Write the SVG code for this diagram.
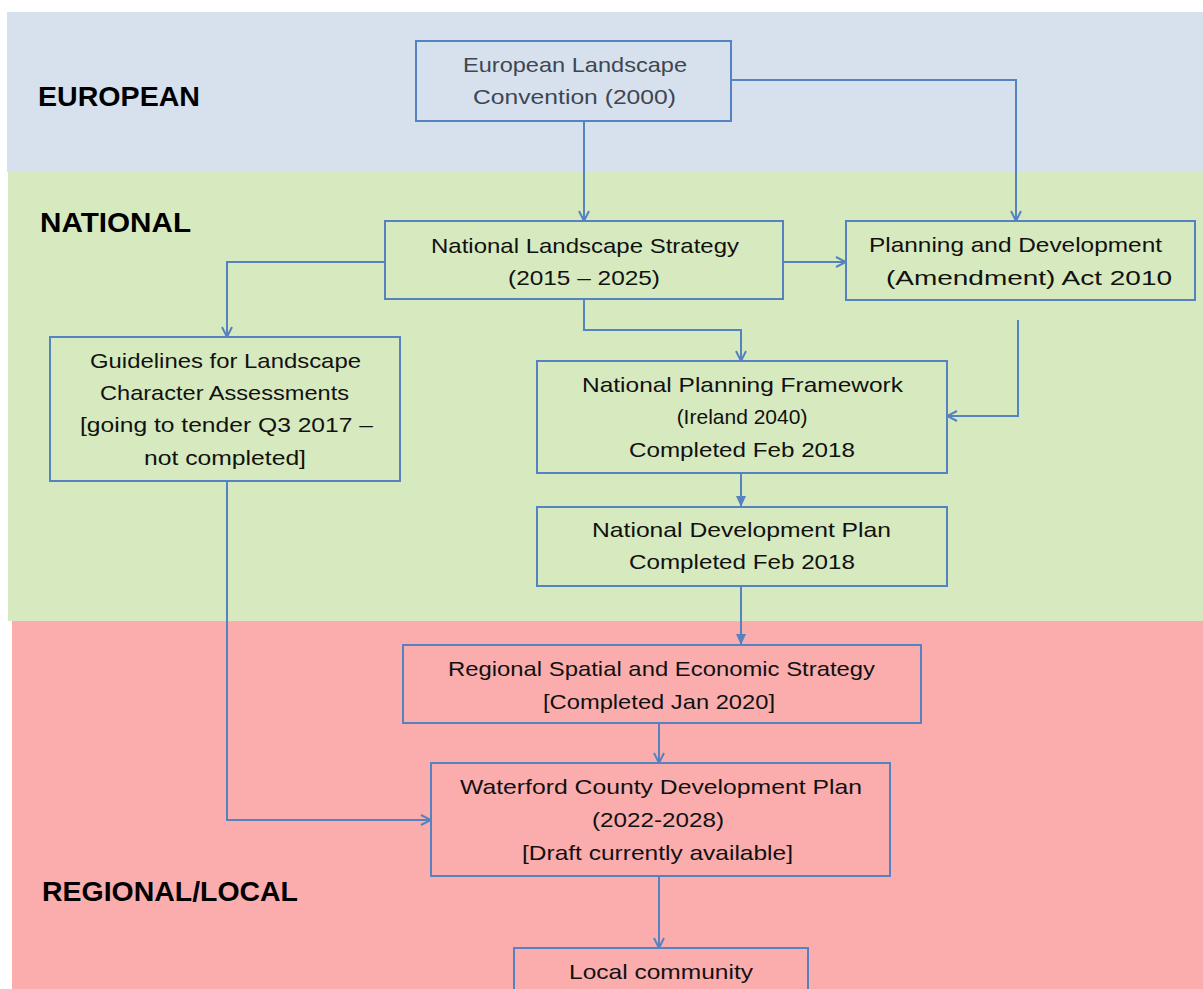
<svg xmlns="http://www.w3.org/2000/svg" width="1203" height="989" viewBox="0 0 1203 989">
<style>
.box{fill:none;stroke:#5582c0;stroke-width:2}
.t{font-family:"Liberation Sans",Arial,sans-serif;font-size:21px;fill:#111;text-anchor:middle}
.g{fill:#3f4652}
.h{font-family:"Liberation Sans",Arial,sans-serif;font-size:28px;font-weight:bold;fill:#000}
.c{fill:none;stroke:#5582c0;stroke-width:2}
.open{marker-end:url(#mo)}
.fill{marker-end:url(#mf)}
</style>
<defs>
<marker id="mo" viewBox="0 0 12 12" markerWidth="12" markerHeight="12" refX="11" refY="6" orient="auto" markerUnits="userSpaceOnUse">
<path d="M1,1 L11,6 L1,11" fill="none" stroke="#5582c0" stroke-width="2"/>
</marker>
<marker id="mf" viewBox="0 0 12 12" markerWidth="12" markerHeight="12" refX="11" refY="6" orient="auto" markerUnits="userSpaceOnUse">
<path d="M0,1 L11,6 L0,11 Z" fill="#5582c0"/>
</marker>
</defs>
<rect width="1203" height="989" fill="#fff"/>
<g id="bands">
<rect x="7" y="12" width="1196" height="160" fill="#d6e1ed"/>
<rect x="8" y="172" width="1195" height="449" fill="#d7eabf"/>
<rect x="12" y="621" width="1191" height="368" fill="#fbadad"/>
</g>
<g id="headings">
<text class="h" x="38" y="106" textLength="162" lengthAdjust="spacingAndGlyphs">EUROPEAN</text>
<text class="h" x="40" y="232" textLength="151" lengthAdjust="spacingAndGlyphs">NATIONAL</text>
<text class="h" x="42" y="901" textLength="256" lengthAdjust="spacingAndGlyphs">REGIONAL/LOCAL</text>
</g>
<g id="connectors">
<path class="c open" d="M584,121 V221"/>
<path class="c open" d="M731,80 H1016 V221"/>
<path class="c open" d="M385,262 H227 V337"/>
<path class="c open" d="M783,262 H846"/>
<path class="c open" d="M584,299 V330 H741 V361"/>
<path class="c open" d="M1018,320 V416 H947"/>
<path class="c fill" d="M741,473 V507"/>
<path class="c fill" d="M741,586 V645"/>
<path class="c open" d="M659,723 V763"/>
<path class="c open" d="M227,481 V820 H431"/>
<path class="c open" d="M659,876 V948"/>
</g>
<g id="european">
<rect class="box" x="416" y="41" width="315" height="80"/>
<text class="t g" x="575" y="72" textLength="224" lengthAdjust="spacingAndGlyphs">European Landscape</text>
<text class="t g" x="574.5" y="104" textLength="203" lengthAdjust="spacingAndGlyphs">Convention (2000)</text>
</g>
<g id="nls">
<rect class="box" x="385" y="221" width="398" height="78"/>
<text class="t" x="585" y="253" textLength="308" lengthAdjust="spacingAndGlyphs">National Landscape Strategy</text>
<text class="t" x="584" y="285" textLength="152" lengthAdjust="spacingAndGlyphs">(2015 – 2025)</text>
</g>
<g id="pd">
<rect class="box" x="846" y="221" width="349" height="79"/>
<text class="t" x="1015.5" y="252" textLength="293" lengthAdjust="spacingAndGlyphs">Planning and Development</text>
<text class="t" x="1029" y="285" textLength="286" lengthAdjust="spacingAndGlyphs">(Amendment) Act 2010</text>
</g>
<g id="guidelines">
<rect class="box" x="50" y="337" width="350" height="144"/>
<text class="t" x="225.5" y="368" textLength="271" lengthAdjust="spacingAndGlyphs">Guidelines for Landscape</text>
<text class="t" x="224.5" y="400" textLength="249" lengthAdjust="spacingAndGlyphs">Character Assessments</text>
<text class="t" x="226.5" y="432" textLength="293" lengthAdjust="spacingAndGlyphs">[going to tender Q3 2017 –</text>
<text class="t" x="225" y="465" textLength="162" lengthAdjust="spacingAndGlyphs">not completed]</text>
</g>
<g id="npf">
<rect class="box" x="537" y="361" width="410" height="112"/>
<text class="t" x="742.5" y="392" textLength="321" lengthAdjust="spacingAndGlyphs">National Planning Framework</text>
<text class="t" x="742" y="424">(Ireland 2040)</text>
<text class="t" x="742" y="457" textLength="226" lengthAdjust="spacingAndGlyphs">Completed Feb 2018</text>
</g>
<g id="ndp">
<rect class="box" x="537" y="507" width="410" height="79"/>
<text class="t" x="741.5" y="537" textLength="299" lengthAdjust="spacingAndGlyphs">National Development Plan</text>
<text class="t" x="742" y="569" textLength="226" lengthAdjust="spacingAndGlyphs">Completed Feb 2018</text>
</g>
<g id="rses">
<rect class="box" x="403" y="645" width="518" height="78"/>
<text class="t" x="661.5" y="676" textLength="427" lengthAdjust="spacingAndGlyphs">Regional Spatial and Economic Strategy</text>
<text class="t" x="659" y="709" textLength="232" lengthAdjust="spacingAndGlyphs">[Completed Jan 2020]</text>
</g>
<g id="waterford">
<rect class="box" x="431" y="763" width="459" height="113"/>
<text class="t" x="661" y="794" textLength="402" lengthAdjust="spacingAndGlyphs">Waterford County Development Plan</text>
<text class="t" x="658" y="827" textLength="132" lengthAdjust="spacingAndGlyphs">(2022-2028)</text>
<text class="t" x="657.5" y="860" textLength="271" lengthAdjust="spacingAndGlyphs">[Draft currently available]</text>
</g>
<g id="local">
<rect class="box" x="514" y="948" width="294" height="60"/>
<text class="t" x="661" y="979" textLength="184" lengthAdjust="spacingAndGlyphs">Local community</text>
</g>
</svg>
